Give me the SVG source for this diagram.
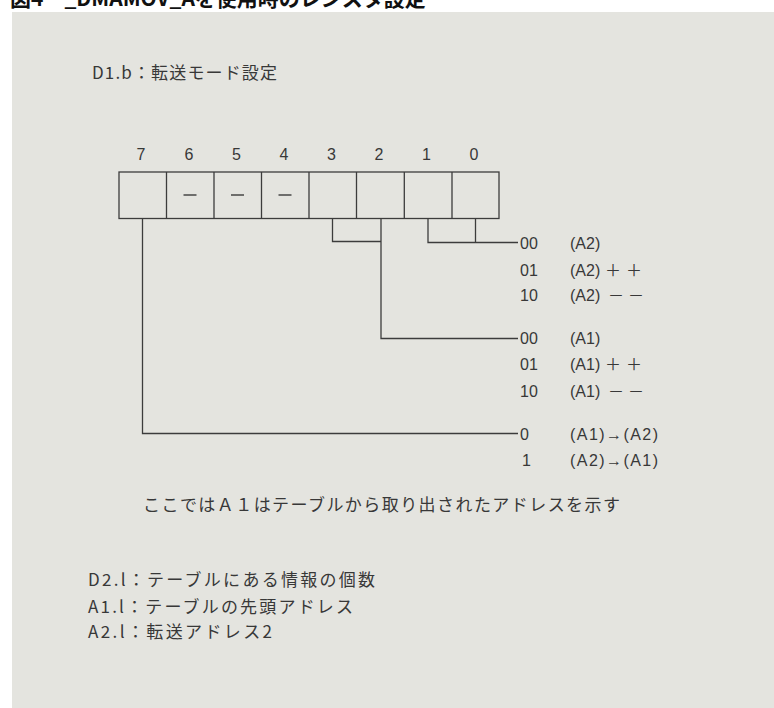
<svg xmlns="http://www.w3.org/2000/svg" width="774" height="708" viewBox="0 0 774 708">
<style>
  .title { font-family: "Noto Sans CJK JP", sans-serif; font-weight: bold; font-size: 21px; fill: #111; }
  .jp { font-family: "Noto Sans CJK JP", sans-serif; font-size: 17px; fill: #383838; }
  .num { font-family: "Liberation Sans", "Noto Sans", sans-serif; font-size: 16px; fill: #383838; }
  .fw { font-family: "Noto Sans CJK JP", sans-serif; font-size: 16px; fill: #383838; }
  .cell { fill: none; stroke: #3c3c3c; stroke-width: 1.3; }
  .wire { fill: none; stroke: #3c3c3c; stroke-width: 1.3; }
</style>
<rect x="0" y="0" width="774" height="708" fill="#ffffff"/>
<text class="title" x="10" y="6">図4　_DMAMOV_Aを使用時のレジスタ設定</text>
<rect x="12" y="12" width="762" height="696" fill="#e4e4df"/>

<g id="heading">
  <text class="jp" x="92" y="79" textLength="185" lengthAdjust="spacing">D1.b：転送モード設定</text>
</g>

<g id="register">
  <g id="bit-numbers" class="num" text-anchor="middle">
    <text x="141" y="160">7</text>
    <text x="189" y="160">6</text>
    <text x="236.5" y="160">5</text>
    <text x="284" y="160">4</text>
    <text x="331.5" y="160">3</text>
    <text x="379" y="160">2</text>
    <text x="426.5" y="160">1</text>
    <text x="474" y="160">0</text>
  </g>
  <rect class="cell" x="119" y="172" width="380" height="46.5"/>
  <path class="cell" d="M166.5 172V218.5M214 172V218.5M261.5 172V218.5M309 172V218.5M356.5 172V218.5M404.3 172V218.5M452 172V218.5"/>
  <g id="unused-bits" stroke="#3c3c3c" stroke-width="1.4">
    <line x1="183.5" y1="195" x2="196.5" y2="195"/>
    <line x1="231" y1="195" x2="244" y2="195"/>
    <line x1="278.5" y1="195" x2="291.5" y2="195"/>
  </g>
</g>

<g id="connectors">
  <path class="wire" d="M142.5 218.5V433.5H518"/>
  <path class="wire" d="M332.5 218.5V241.5H381"/>
  <path class="wire" d="M381 218.5V338.5H518"/>
  <path class="wire" d="M428 218.5V242.5H518"/>
  <path class="wire" d="M475.5 218.5V242.5"/>
</g>

<g id="bits-1-0">
  <text class="num" x="520" y="249">00</text>
  <text class="num" x="570" y="249">(A2)</text>
  <text class="num" x="520" y="275.5">01</text>
  <text class="num" x="570" y="275.5">(A2)<tspan class="fw" x="605">＋</tspan><tspan class="fw" x="626">＋</tspan></text>
  <text class="num" x="520" y="301">10</text>
  <text class="num" x="570" y="301">(A2)<tspan class="fw" x="608">－</tspan><tspan class="fw" x="628">－</tspan></text>
</g>

<g id="bits-3-2">
  <text class="num" x="520" y="343.5">00</text>
  <text class="num" x="570" y="343.5">(A1)</text>
  <text class="num" x="520" y="370">01</text>
  <text class="num" x="570" y="370">(A1)<tspan class="fw" x="605">＋</tspan><tspan class="fw" x="626">＋</tspan></text>
  <text class="num" x="520" y="397">10</text>
  <text class="num" x="570" y="397">(A1)<tspan class="fw" x="608">－</tspan><tspan class="fw" x="628">－</tspan></text>
</g>

<g id="bit-7">
  <text class="num" x="520" y="440">0</text>
  <text class="num" x="570" y="440" textLength="88" lengthAdjust="spacing">(A1)→(A2)</text>
  <text class="num" x="522" y="465.5">1</text>
  <text class="num" x="570" y="465.5" textLength="88" lengthAdjust="spacing">(A2)→(A1)</text>
</g>

<g id="note">
  <text class="jp" x="143" y="511" textLength="477" lengthAdjust="spacing">ここではＡ１はテーブルから取り出されたアドレスを示す</text>
</g>

<g id="registers-list">
  <text class="jp" x="88" y="586" textLength="287" lengthAdjust="spacing">D2.l：テーブルにある情報の個数</text>
  <text class="jp" x="88" y="612.5" textLength="265" lengthAdjust="spacing">A1.l：テーブルの先頭アドレス</text>
  <text class="jp" x="88" y="638" textLength="184" lengthAdjust="spacing">A2.l：転送アドレス2</text>
</g>
</svg>
